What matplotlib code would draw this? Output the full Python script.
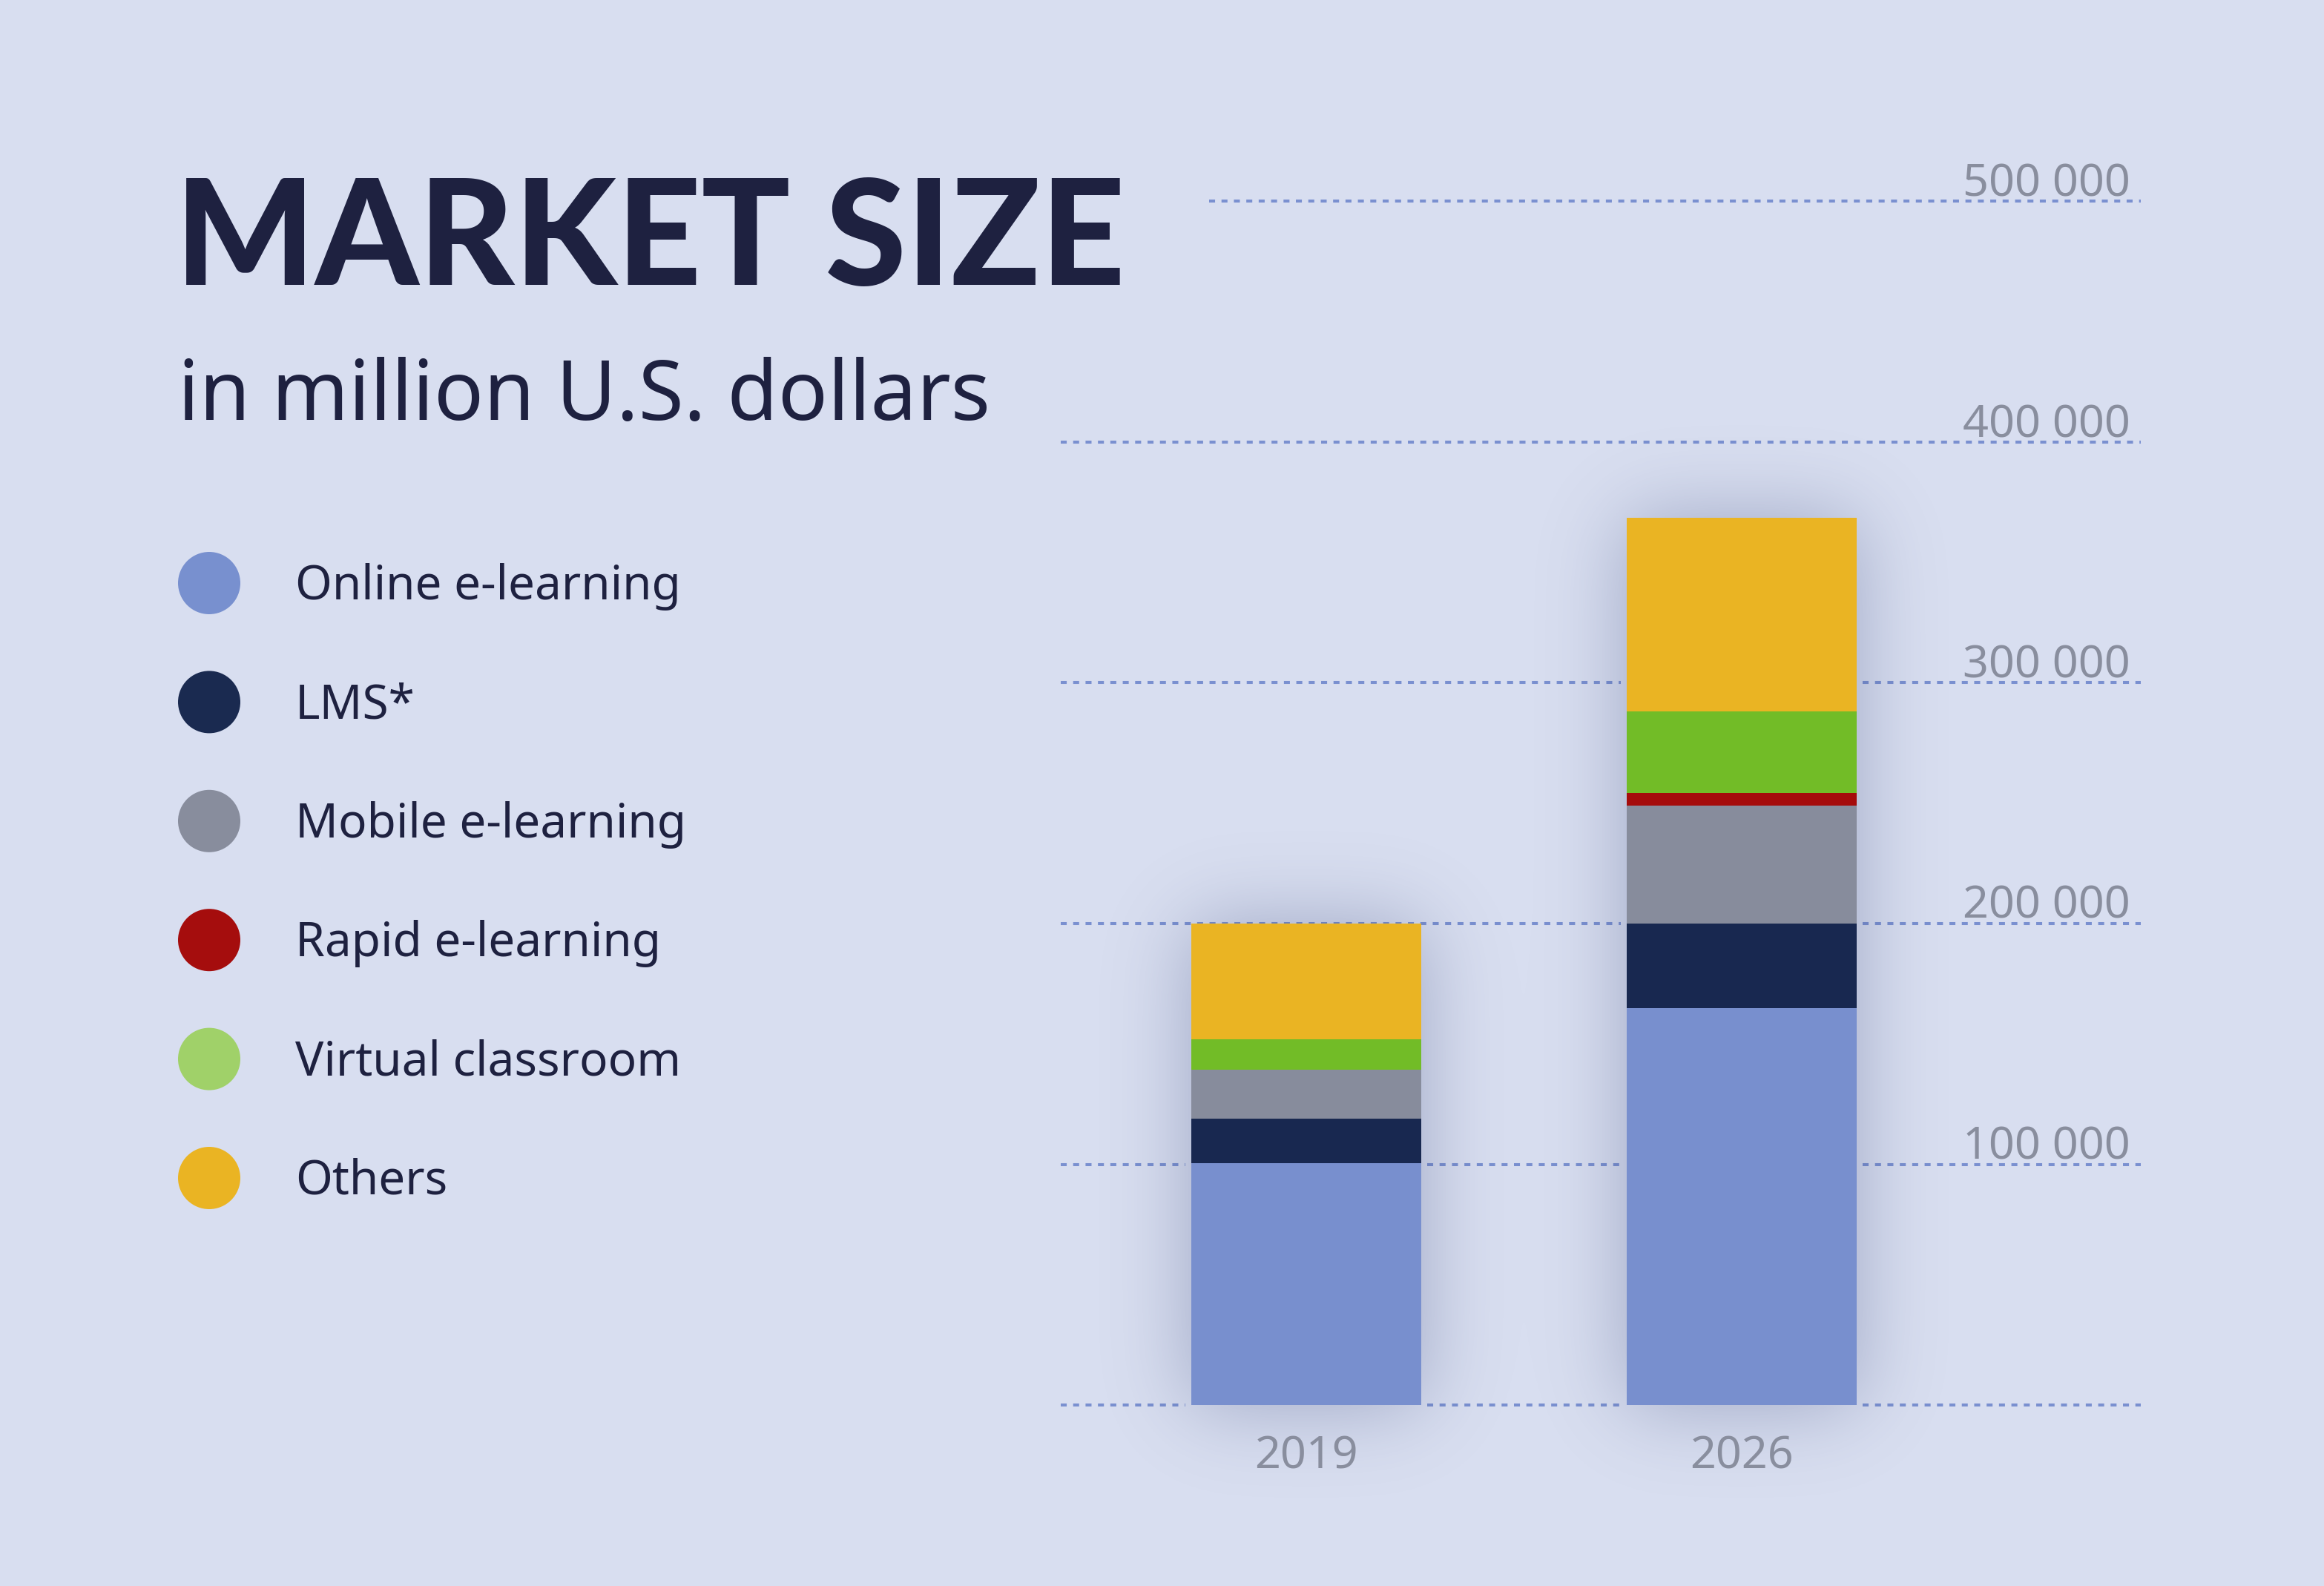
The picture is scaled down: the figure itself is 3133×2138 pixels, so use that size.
import math
import matplotlib
matplotlib.use("Agg")
import matplotlib.pyplot as plt
import numpy as np
from matplotlib.patches import Circle

plt.rcParams['font.family'] = ['Noto Sans', 'DejaVu Sans']

# data (million U.S. dollars)
years = ["2019", "2026"]
segments = ["Online e-learning", "LMS*", "Mobile e-learning",
            "Rapid e-learning", "Virtual classroom", "Others"]
online = [100400, 165000]
lms = [18600, 35000]
mobile = [20200, 49000]
rapid = [0, 5300]
virtual = [12800, 33800]
others = [48000, 80400]
ticks = [0, 100000, 200000, 300000, 400000, 500000]

bar_colors = ["#788fce", "#182850", "#878c9c", "#a50b0b", "#72bc27", "#eab423"]
dot_colors = ["#7890cf", "#1a2a50", "#888d9d", "#a50d0d", "#a0d169", "#eab423"]
BG = "#d8def0"
TEXT = "#1e2140"
GREY = "#898e9e"
GRID = "#7a90d0"
SHADOW = "#2f3c6e"

W, H = 3133, 2138
fig = plt.figure(figsize=(W / 100, H / 100), dpi=100)
fig.patch.set_facecolor(BG)

# overlay axes in pixel coords (y down) for title and legend
ax0 = fig.add_axes([0, 0, 1, 1])
ax0.set_xlim(0, W)
ax0.set_ylim(H, 0)
ax0.axis('off')

ax0.text(236, 384, "MARKET SIZE", fontsize=143, fontweight='black',
         family=['Lato', 'DejaVu Sans'], color=TEXT, va='baseline', ha='left')
ax0.text(240, 566, "in million U.S. dollars", fontsize=80,
         color=TEXT, va='baseline', ha='left')

for i, (lab, col) in enumerate(zip(segments, dot_colors)):
    cy = 786 + i * 160.4
    ax0.add_patch(Circle((282, cy), 42, color=col, lw=0))
    ax0.text(398, cy + 22, lab, fontsize=46, color=TEXT, va='baseline', ha='left')

# chart axes
L, R, B, T = 1300, 3000, 100, 2000
ax = fig.add_axes([L / W, B / H, (R - L) / W, (T - B) / H])
ax.patch.set_alpha(0)
ax.axis('off')

px_unit = 587.0          # pixels per category step
x_first = 1761.0         # pixel x of first bar centre
px_val = 324.5 / 100000  # pixels per million
base = 244.0             # baseline pixel height from figure bottom
xlim = ((L - x_first) / px_unit, (R - x_first) / px_unit)
ylim = (-(base - B) / px_val, (T - base) / px_val)

bar_w = 0.528
xpos = np.arange(len(years))
series = [online, lms, mobile, rapid, virtual, others]
totals = np.sum(series, axis=0)

# gridlines (broken a few pixels around the bars) + tick labels
gap = 8 / px_unit
for t in ticks:
    x_start = -0.223 if t == ticks[-1] else -0.564
    pieces, cur = [], x_start
    for x, tot in zip(xpos, totals):
        if t < tot - 1:
            pieces.append((cur, x - bar_w / 2 - gap))
            cur = x + bar_w / 2 + gap
    pieces.append((cur, 1.917))
    for a, b in pieces:
        ax.hlines(t, a, b, colors=GRID, linestyles=[(0, (2.0, 2.15))],
                  lw=2.9, zorder=1)
    if t > 0:
        ax.text(1.893, t + 7 / px_val, f"{t:,}".replace(",", " "), fontsize=44,
                color=GREY, ha='right', va='baseline', zorder=5)

# soft shadow around bars (gaussian-blurred rectangles)
nx, ny = R - L, T - B
xd = xlim[0] + (np.arange(nx) + 0.5) / px_unit
yd = ylim[0] + (np.arange(ny) + 0.5) / px_val
verf = np.vectorize(math.erf)
sx = 55 / px_unit * math.sqrt(2)
sy = 55 / px_val * math.sqrt(2)
alpha = np.zeros((ny, nx))
for x, tot in zip(xpos, totals):
    fx = 0.5 * (verf((xd - (x - bar_w / 2)) / sx) - verf((xd - (x + bar_w / 2)) / sx))
    fy = 0.5 * (verf((yd - 0) / sy) - verf((yd - tot) / sy))
    alpha += fy[:, None] * fx[None, :]
img = np.zeros((ny, nx, 4))
img[..., :3] = matplotlib.colors.to_rgb(SHADOW)
img[..., 3] = np.clip(alpha, 0, 1) * 0.34
ax.imshow(img, extent=(xlim[0], xlim[1], ylim[0], ylim[1]), origin='lower',
          aspect='auto', zorder=2, interpolation='bilinear')

# stacked bars
bottom = np.zeros(len(years))
for vals, col in zip(series, bar_colors):
    ax.bar(xpos, vals, width=bar_w, bottom=bottom, color=col, lw=0, zorder=3)
    bottom += np.array(vals)

for x, yr in zip(xpos, years):
    ax.text(x, -70 / px_val, yr, fontsize=44, color=GREY, ha='center',
            va='center', zorder=5)

ax.set_xlim(*xlim)
ax.set_ylim(*ylim)

fig.savefig("out.png", dpi=100, facecolor=BG)
